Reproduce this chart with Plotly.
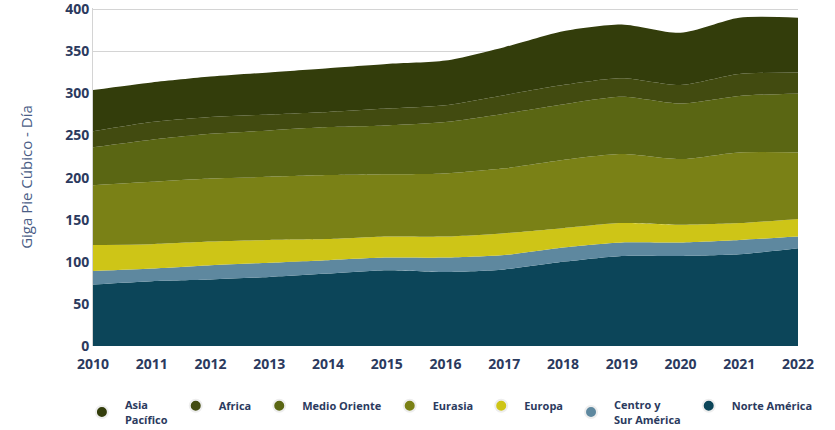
import plotly.graph_objects as go

years = list(range(2010, 2023))

# Daily production by region, Giga cubic feet per day
norte_america = [73, 77, 79, 82, 86, 90, 88, 91, 100, 107, 107, 109, 116]
centro_sur_america = [16, 15, 17, 17, 16, 15, 17, 17, 17, 16, 16, 17, 14]
europa = [31, 29, 28, 27, 25, 25, 25, 26, 23, 23, 21, 20, 21]
eurasia = [71, 74, 75, 75, 76, 74, 75, 77, 81, 82, 78, 84, 79]
medio_oriente = [45, 50, 53, 55, 57, 58, 61, 65, 66, 68, 66, 67, 70]
africa = [19, 21, 20, 19, 18, 20, 20, 22, 23, 22, 22, 26, 25]
asia_pacifico = [49, 47, 48, 50, 52, 53, 53, 57, 64, 64, 62, 67, 65]

# bottom-to-top stacking order
series = [
    ("Norte América", norte_america, "#0c4559"),
    ("Centro y<br>Sur América", centro_sur_america, "#5e889f"),
    ("Europa", europa, "#cec517"),
    ("Eurasia", eurasia, "#7a8116"),
    ("Medio Oriente", medio_oriente, "#5a6613"),
    ("Africa", africa, "#424b10"),
    ("Asia<br>Pacífico", asia_pacifico, "#333d0b"),
]

text_color = "#2b3a5e"
fig = go.Figure()

for name, vals, color in series:
    fig.add_trace(go.Scatter(
        x=years, y=vals, name=name, stackgroup="one",
        mode="none", fill="tonexty", fillcolor=color,
        line=dict(shape="spline", smoothing=0.7, width=0),
        showlegend=False, legendgroup=name,
    ))

# legend entries drawn as round markers, top series first
for name, vals, color in reversed(series):
    fig.add_trace(go.Scatter(
        x=[None], y=[None], name=name, mode="markers",
        marker=dict(size=12, color=color, line=dict(color="#eeeeee", width=2)),
        legendgroup=name, showlegend=True,
    ))

fig.update_layout(
    width=835, height=430,
    margin=dict(l=93, r=37, t=8, b=84, autoexpand=False),
    paper_bgcolor="white", plot_bgcolor="white",
    font=dict(family="Open Sans", color=text_color),
    showlegend=True,
    legend=dict(
        orientation="h",
        x=-0.02, xanchor="left",
        y=-0.196, yanchor="middle",
        font=dict(size=11, color=text_color, weight="bold"),
        itemsizing="constant", tracegroupgap=0,
        itemwidth=36,
    ),
    xaxis=dict(
        range=[2010, 2022], tickmode="linear", tick0=2010, dtick=1,
        showgrid=False, zeroline=False, showline=False,
        tickfont=dict(size=14, color=text_color, weight="bold"),
        ticks="outside", ticklen=5, tickcolor="rgba(0,0,0,0)",
    ),
    yaxis=dict(
        range=[0, 401.5], tickmode="linear", tick0=0, dtick=50,
        showgrid=True, gridcolor="#d4d4d4", gridwidth=1,
        zeroline=False, showline=True, linecolor="#d4d4d4", linewidth=1,
        tickfont=dict(size=14, color=text_color, weight="bold"),
        ticklabeloverflow="allow",
        title=dict(text="Giga Pie Cúbico - Día", font=dict(size=15, color="#4a5d86"), standoff=28),
    ),
)

fig.write_html("out.html")
